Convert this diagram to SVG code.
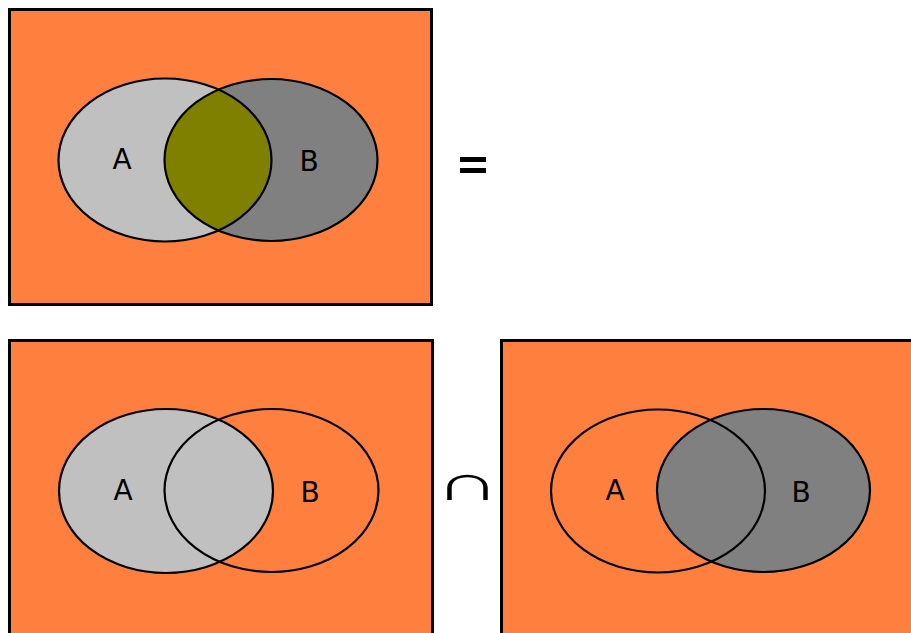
<svg xmlns="http://www.w3.org/2000/svg" width="911" height="633" viewBox="0 0 911 633">
  <style>
    .frame { fill: #ff7f3f; stroke: #000; stroke-width: 3; }
    .line { fill: none; stroke: #000; stroke-width: 2.2; }
    .light { fill: #c0c0c0; }
    .dark { fill: #808080; }
    .both { fill: #808000; }
    .lbl { font-family: "DejaVu Sans", "Liberation Sans", sans-serif; font-size: 28px; fill: #000; text-anchor: middle; }
    .op { font-family: "DejaVu Sans", "Liberation Sans", sans-serif; fill: #000; text-anchor: middle; }
  </style>
  <defs>
    <clipPath id="clipA1"><ellipse cx="165" cy="160" rx="106.5" ry="81.5"/></clipPath>
  </defs>
  <rect width="911" height="633" fill="#fff"/>

  <!-- A intersect B -->
  <g id="result">
    <rect class="frame" x="9.5" y="9.5" width="422" height="295"/>
    <ellipse class="light" cx="165" cy="160" rx="106.5" ry="81.5"/>
    <ellipse class="dark" cx="271" cy="160" rx="106.5" ry="81"/>
    <ellipse class="both" cx="271" cy="160" rx="106.5" ry="81" clip-path="url(#clipA1)"/>
    <ellipse class="line" cx="165" cy="160" rx="106.5" ry="81.5"/>
    <ellipse class="line" cx="271" cy="160" rx="106.5" ry="81"/>
    <text class="lbl" x="122" y="169">A</text>
    <text class="lbl" x="309" y="171">B</text>
  </g>

  <g id="equals">
    <rect x="460" y="157" width="26" height="5" fill="#000"/>
    <rect x="460" y="168" width="26" height="5" fill="#000"/>
  </g>

  <!-- set A -->
  <g id="setA">
    <rect class="frame" x="9.5" y="340.5" width="423" height="300"/>
    <ellipse class="light" cx="166" cy="491" rx="107" ry="82"/>
    <ellipse class="line" cx="166" cy="491" rx="107" ry="82"/>
    <ellipse class="line" cx="271.5" cy="490.5" rx="107" ry="81.5"/>
    <text class="lbl" x="123" y="500">A</text>
    <text class="lbl" x="310" y="502">B</text>
  </g>

  <g id="intersect">
    <text class="op" font-size="50" font-weight="300" transform="translate(467,500) scale(1.8,1)">∩</text>
  </g>

  <!-- set B -->
  <g id="setB">
    <rect class="frame" x="501.5" y="340.5" width="420" height="300"/>
    <ellipse class="dark" cx="763.5" cy="490.5" rx="106.5" ry="81.5"/>
    <ellipse class="line" cx="658" cy="491" rx="107" ry="81.5"/>
    <ellipse class="line" cx="763.5" cy="490.5" rx="106.5" ry="81.5"/>
    <text class="lbl" x="615" y="500">A</text>
    <text class="lbl" x="801" y="502">B</text>
  </g>
</svg>
